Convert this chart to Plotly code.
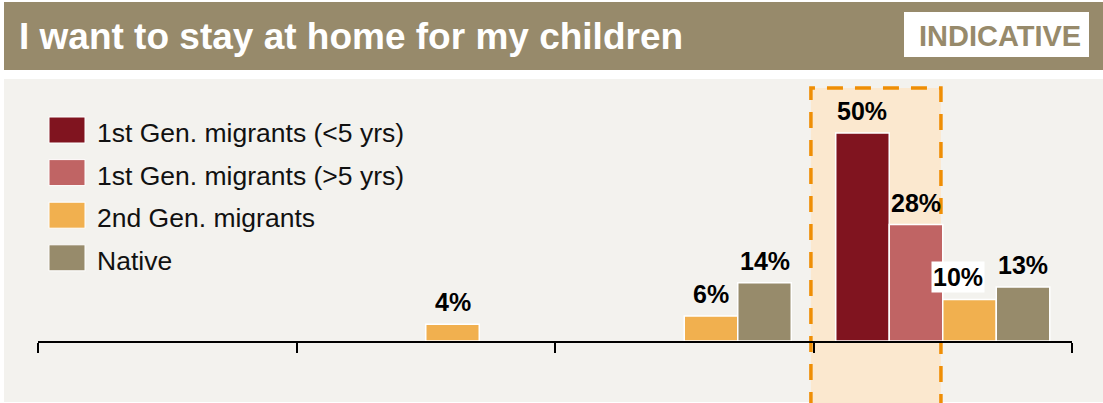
import plotly.graph_objects as go

W, H = 1103, 403

# Answer positions along the scale (four response buckets)
categories = [0, 1, 2, 3]

series_names = [
    "1st Gen. migrants (<5 yrs)",
    "1st Gen. migrants (>5 yrs)",
    "2nd Gen. migrants",
    "Native",
]
first_gen_under5 = [None, None, None, 50]
first_gen_over5 = [None, None, None, 28]
second_gen = [None, 4, 6, 10]
native = [None, None, 14, 13]

series_values = [first_gen_under5, first_gen_over5, second_gen, native]
series_colors = ["#80141f", "#c06464", "#f1b04f", "#978b6b"]

title_text = "I want to stay at home for my children"
badge_text = "INDICATIVE"
highlight_category = 3

FONT = "Liberation Sans, Arial, Helvetica, sans-serif"
KHAKI = "#978a6b"
BARGAP = 0.172


def px(x):
    return x / W


def py(y):
    return 1 - y / H


fig = go.Figure()

for name, vals, color in zip(series_names, series_values, series_colors):
    fig.add_trace(go.Bar(
        x=categories, y=vals, name=name,
        marker=dict(color=color, line=dict(color="white", width=1.5)),
        showlegend=False, hoverinfo="skip",
    ))

shapes = [
    # header band
    dict(type="rect", xref="paper", yref="paper", x0=px(4), x1=px(W + 2),
         y0=py(70), y1=py(2), fillcolor=KHAKI, line=dict(width=0), layer="below"),
    # light panel behind the chart
    dict(type="rect", xref="paper", yref="paper", x0=px(4), x1=px(W + 2),
         y0=py(402), y1=py(79), fillcolor="#f3f2ee", line=dict(width=0), layer="below"),
    # badge box
    dict(type="rect", xref="paper", yref="paper", x0=px(904), x1=px(1089),
         y0=py(57), y1=py(12), fillcolor="white", line=dict(width=0), layer="below"),
    # highlighted bucket
    dict(type="rect", xref="x", yref="paper",
         x0=highlight_category - 0.51, x1=highlight_category - 0.007,
         y0=py(420), y1=py(88),
         fillcolor="#fbe8cf", line=dict(color="#ef8e05", width=3.5, dash="16px,12px"),
         layer="below"),
]

annotations = [
    dict(text=f"<b>{title_text}</b>", xref="paper", yref="paper",
         x=px(17), y=py(37), xanchor="left", yanchor="middle", showarrow=False,
         font=dict(family=FONT, size=37, color="white")),
    dict(text=f"<b>{badge_text}</b>", xref="paper", yref="paper",
         x=px(1000), y=py(36), xanchor="center", yanchor="middle", showarrow=False,
         font=dict(family=FONT, size=29, color=KHAKI)),
]

# Legend built from swatches and labels
for i, (name, color) in enumerate(zip(series_names, series_colors)):
    yc = 130 + i * 42.6
    shapes.append(dict(type="rect", xref="paper", yref="paper",
                       x0=px(49), x1=px(85), y0=py(yc + 13), y1=py(yc - 13),
                       fillcolor=color, line=dict(color="white", width=1)))
    annotations.append(dict(text=name, xref="paper", yref="paper",
                            x=px(95), y=py(yc + 3), xanchor="left", yanchor="middle",
                            showarrow=False,
                            font=dict(family=FONT, size=26.5, color="#111111")))

# Value labels above each bar
n = len(series_values)
bar_w = (1 - BARGAP) / n
for i, vals in enumerate(series_values):
    for cat, v in zip(categories, vals):
        if v is None:
            continue
        xpos = cat + (i - (n - 1) / 2) * bar_w
        on_edge = (cat == highlight_category and i == 2)
        annotations.append(dict(
            text=f"<b>{v}%</b>", x=xpos, y=v, xref="x", yref="y",
            yshift=22, xshift=-12 if on_edge else 0,
            xanchor="center", yanchor="middle", showarrow=False,
            bgcolor="white" if on_edge else "rgba(0,0,0,0)", borderpad=1,
            font=dict(family=FONT, size=25, color="black"),
        ))

y_bottom, y_top = 341, 80
y_scale = 4.16  # pixels per percentage point

fig.update_layout(
    width=W, height=H, autosize=False,
    margin=dict(l=0, r=0, t=0, b=0, pad=0),
    paper_bgcolor="white", plot_bgcolor="rgba(0,0,0,0)",
    barmode="group", bargap=BARGAP, bargroupgap=0,
    shapes=shapes, annotations=annotations,
    xaxis=dict(
        domain=[px(38), px(1072)], range=[-0.5, len(categories) - 0.5],
        showline=True, linecolor="black", linewidth=2,
        tickmode="array", tickvals=[c - 0.5 for c in categories] + [categories[-1] + 0.5],
        ticks="outside", ticklen=10, tickwidth=2, tickcolor="black",
        showticklabels=False, showgrid=False, zeroline=False, fixedrange=True,
    ),
    yaxis=dict(
        domain=[py(y_bottom), py(y_top)],
        range=[0, (y_bottom - y_top) / y_scale],
        visible=False, fixedrange=True,
    ),
    showlegend=False,
)

fig.write_html("out.html")
